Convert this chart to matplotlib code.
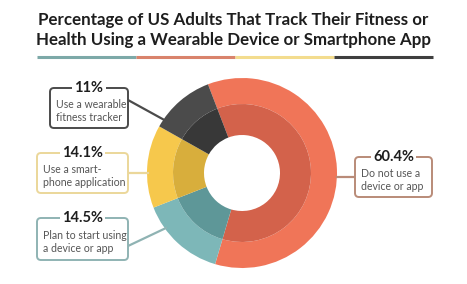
import matplotlib.pyplot as plt
from matplotlib.patches import FancyBboxPatch

plt.rcParams['font.family'] = ['Lato', 'DejaVu Sans']

# data
labels = ['Do not use a\ndevice or app', 'Plan to start using\na device or app',
          'Use a smart-\nphone application', 'Use a wearable\nfitness tracker']
values = [60.4, 14.5, 14.1, 11.0]
pct_text = ['60.4%', '14.5%', '14.1%', '11%']
outer_colors = ['#F07558', '#7DB7B8', '#F6C84C', '#4B4B4B']
inner_colors = ['#D3624B', '#5E9798', '#D8AE3C', '#383838']
border_colors = ['#B98B78', '#8FB3B3', '#EBD79A', '#4B4B4B']
title = 'Percentage of US Adults That Track Their Fitness or\nHealth Using a Wearable Device or Smartphone App'

W, H = 467, 284
fig = plt.figure(figsize=(W / 100, H / 100), dpi=100)
ax = fig.add_axes([0, 0, 1, 1])

cx, cy = 242, H - 173
ax.pie(values, colors=outer_colors, radius=95, center=(cx, cy), startangle=111,
       counterclock=False, wedgeprops=dict(width=26, linewidth=0))
ax.pie(values, colors=inner_colors, radius=69, center=(cx, cy), startangle=111,
       counterclock=False, wedgeprops=dict(width=31, linewidth=0))

ax.set_xlim(0, W)
ax.set_ylim(0, H)
ax.set_aspect('equal')
ax.axis('off')

ax.text(W / 2, H - 30, title, ha='center', va='center', fontsize=12.2,
        fontweight='bold', color='#1e1e1e', linespacing=1.3)

# underline in four colours
seg = [(37, 136, '#7DA9A8'), (136, 235, '#D9836C'), (235, 334, '#F3DC8E'), (334, 433, '#3F3F3F')]
for x0, x1, c in seg:
    ax.plot([x0, x1], [H - 57, H - 57], color=c, lw=2.2, solid_capstyle='butt')

# boxes: (x0, y0_top, x1, y1_bottom) in pixels, leader start/end
boxes = [
    (355, 157, 432, 197, (337, 177), (355, 177)),
    (37, 218, 128, 260, (128, 246), (166, 228)),
    (37, 153, 128, 193, (128, 173), (148, 173)),
    (50, 88, 128, 128, (128, 100), (168, 122)),
]

for i, (x0, t, x1, b, p0, p1) in enumerate(boxes):
    ec = border_colors[i]
    box = FancyBboxPatch((x0, H - b), x1 - x0, b - t,
                         boxstyle='round,pad=0,rounding_size=4',
                         fc='white', ec=ec, lw=1.4, zorder=3)
    ax.add_patch(box)
    ax.plot([p0[0], p1[0]], [H - p0[1], H - p1[1]], color=ec, lw=1.6, zorder=2)
    ax.text((x0 + x1) / 2, H - t, pct_text[i], ha='center', va='center',
            fontsize=10.5, fontweight='bold', color='#1e1e1e', zorder=5,
            bbox=dict(fc='white', ec='none', pad=1.5))
    ax.text(x0 + 6, H - (t + b) / 2 - 3, labels[i], ha='left', va='center',
            fontsize=7.6, color='#555555', zorder=5, linespacing=1.3)

fig.savefig('out.png', dpi=100)
